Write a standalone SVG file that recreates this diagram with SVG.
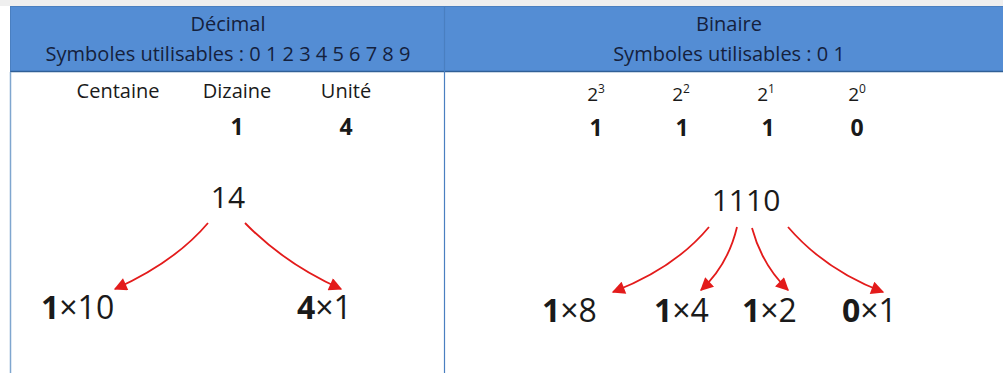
<svg xmlns="http://www.w3.org/2000/svg" width="1003" height="373" viewBox="0 0 1003 373">
<defs>
<style>
.t{font-family:"Open Sans","Liberation Sans",Arial,sans-serif;fill:#1a1a1a}
.h{font-family:"Open Sans","Liberation Sans",Arial,sans-serif;fill:#14213d;font-size:20px;text-anchor:middle}
.c{text-anchor:middle}
.b{font-weight:bold}
.conn path{fill:none;stroke:#e31b1b;stroke-width:1.8;marker-end:url(#ah)}
</style>
<marker id="ah" viewBox="0 0 10 10" refX="9" refY="5" markerWidth="14" markerHeight="13" markerUnits="userSpaceOnUse" orient="auto">
<path d="M0,0 L10,5 L0,10 z" fill="#e31b1b"/>
</marker>
</defs>
<rect x="0" y="0" width="1003" height="373" fill="#ffffff"/>
<rect x="0" y="0" width="1003" height="6" fill="#efefef"/>
<g id="table">
<rect x="10.5" y="6.5" width="1000" height="65" fill="#548dd4" stroke="#4a7fc0"/>
<line x1="10.5" y1="71.5" x2="1003" y2="71.5" stroke="#2f5f96" stroke-width="1.5"/>
<line x1="10.5" y1="72" x2="10.5" y2="373" stroke="#7fa6cf" stroke-width="1.5"/>
<line x1="444.5" y1="6" x2="444.5" y2="373" stroke="#4a7fc0" stroke-width="1.2"/>
</g>
<g id="header-decimal">
<text class="h" x="228" y="31">Décimal</text>
<text class="h" x="228" y="61">Symboles utilisables : 0 1 2 3 4 5 6 7 8 9</text>
</g>
<g id="header-binaire">
<text class="h" x="729" y="31">Binaire</text>
<text class="h" x="729" y="61">Symboles utilisables : 0 1</text>
</g>
<g id="dec-labels">
<text class="t c" x="118" y="98" font-size="20">Centaine</text>
<text class="t c" x="237" y="98" font-size="20">Dizaine</text>
<text class="t c" x="346" y="98" font-size="20">Unité</text>
<text class="t c b" x="237" y="135" font-size="23">1</text>
<text class="t c b" x="346" y="135" font-size="23">4</text>
</g>
<g id="bin-labels">
<text class="t c" x="596" y="101" font-size="19">2<tspan font-size="12" dy="-8">3</tspan></text>
<text class="t c" x="681" y="101" font-size="19">2<tspan font-size="12" dy="-8">2</tspan></text>
<text class="t c" x="766" y="101" font-size="19">2<tspan font-size="12" dy="-8">1</tspan></text>
<text class="t c" x="857" y="101" font-size="19">2<tspan font-size="12" dy="-8">0</tspan></text>
<text class="t c b" x="596" y="136" font-size="23">1</text>
<text class="t c b" x="682" y="136" font-size="23">1</text>
<text class="t c b" x="768" y="136" font-size="23">1</text>
<text class="t c b" x="857" y="136" font-size="23">0</text>
</g>
<g id="n14"><text class="t c" x="228" y="208" font-size="30">14</text></g>
<g id="n1110"><text class="t c" x="746" y="211" font-size="30">1110</text></g>
<g id="n1x10"><text class="t" x="41" y="319" font-size="32"><tspan class="b">1</tspan>×10</text></g>
<g id="n4x1"><text class="t" x="297" y="319" font-size="32"><tspan class="b">4</tspan>×1</text></g>
<g id="n1x8"><text class="t" x="542" y="322" font-size="32"><tspan class="b">1</tspan>×8</text></g>
<g id="n1x4"><text class="t" x="654" y="322" font-size="32"><tspan class="b">1</tspan>×4</text></g>
<g id="n1x2"><text class="t" x="742" y="322" font-size="32"><tspan class="b">1</tspan>×2</text></g>
<g id="n0x1"><text class="t" x="842" y="322" font-size="32"><tspan class="b">0</tspan>×1</text></g>
<g id="connectors" class="conn">
<path d="M208,223 Q175,262 115,289"/>
<path d="M245,223 Q285,264 341,289"/>
<path d="M709,227 Q675,268 613,292"/>
<path d="M737,227 Q728,265 701,290"/>
<path d="M752,228 Q762,265 788,290"/>
<path d="M788,227 Q825,270 883,292"/>
</g>
</svg>
